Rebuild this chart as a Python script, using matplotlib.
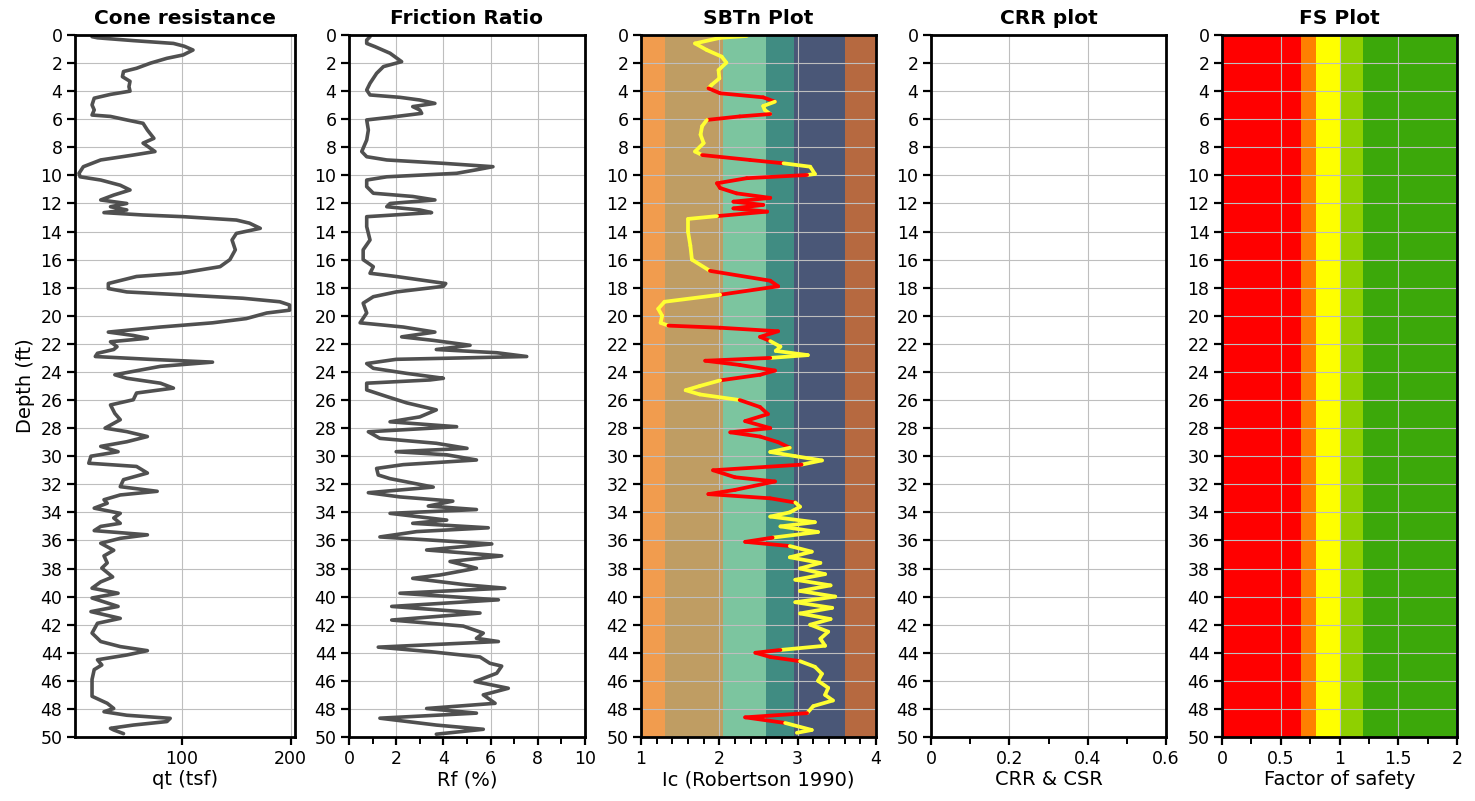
import numpy as np
import matplotlib
matplotlib.use("Agg")
import matplotlib.pyplot as plt
from matplotlib.collections import LineCollection
from matplotlib.ticker import MultipleLocator, FormatStrFormatter, FixedLocator

# ---------------- CPT sounding data ----------------
qt_depth = [0.12, 0.2, 0.4, 0.6, 0.8, 1.07, 1.42, 1.66, 2.0, 2.37, 2.6, 2.97, 3.3, 3.68, 4.0,
            4.23, 4.5, 4.98, 5.34, 5.7, 5.8, 6.05, 6.29, 6.77, 7.36, 7.7, 8.3, 8.55, 8.9, 9.38,
            9.85, 10.1, 10.33, 10.7, 11.04, 11.4, 11.75, 12.0, 12.23, 12.46, 12.65, 12.82, 12.94,
            13.18, 13.4, 13.77, 14.13, 14.6, 15.3, 16.0, 16.5, 16.97, 17.2, 17.7, 18.06, 18.3,
            18.5, 18.75, 19.0, 19.23, 19.6, 19.8, 20.2, 20.5, 20.8, 21.16, 21.4, 21.6, 21.85,
            22.2, 22.4, 22.67, 22.9, 23.1, 23.3, 23.6, 24.2, 24.45, 24.8, 25.15, 25.5, 25.98,
            26.35, 26.95, 27.4, 28.0, 28.25, 28.6, 28.97, 29.3, 29.68, 30.0, 30.5, 30.73, 31.2,
            31.67, 32.17, 32.5, 32.76, 33.1, 33.35, 33.7, 34.07, 34.4, 34.78, 35.0, 35.3, 35.6,
            35.85, 36.2, 36.7, 37.1, 37.6, 37.97, 38.6, 38.95, 39.4, 39.76, 40.1, 40.7, 41.07,
            41.55, 41.9, 42.6, 43.2, 43.56, 43.85, 44.16, 44.5, 44.87, 45.2, 45.9, 46.5, 47.1,
            47.6, 47.97, 48.2, 48.45, 48.67, 48.9, 49.15, 49.38, 49.5, 49.76]
qt_tsf = [17, 22, 55, 92, 102, 110, 101, 86, 71, 58, 46, 45, 52, 51, 52,
          34, 19, 17, 19, 17, 34, 49, 64, 68, 74, 64, 75, 55, 25, 9,
          5, 6, 25, 43, 52, 37, 25, 49, 34, 49, 28, 64, 101,
          150, 162, 172, 150, 146, 149, 144, 135, 98, 58, 32, 32, 49,
          98, 156, 190, 199, 199, 178, 159, 128, 80, 32, 55, 68, 34,
          40, 37, 22, 20, 70, 128, 80, 38, 49, 80, 92, 58, 55,
          34, 38, 43, 29, 49, 68, 49, 25, 41, 16, 14, 58, 68,
          46, 43, 77, 43, 28, 31, 19, 43, 37, 43, 25, 19, 68,
          43, 25, 37, 28, 31, 26, 36, 25, 17, 41, 17, 41, 16,
          43, 22, 17, 25, 43, 68, 49, 22, 26, 19, 17, 17, 17,
          31, 37, 28, 49, 89, 86, 55, 34, 37, 46]

rf_depth = [0.12, 0.36, 0.6, 0.83, 1.3, 1.9, 2.25, 2.73, 3.44, 3.92, 4.27, 4.44, 4.63, 4.87,
            5.1, 5.34, 5.58, 5.86, 6.05, 6.77, 7.48, 8.3, 8.67, 8.9, 9.14, 9.38, 9.6, 9.85,
            10.1, 10.33, 10.8, 11.27, 11.5, 11.75, 12.0, 12.23, 12.46, 12.65, 12.94, 13.65,
            14.6, 15.3, 16.0, 16.5, 16.97, 17.2, 17.7, 17.9, 18.3, 18.64, 19.1, 19.8, 20.5,
            20.8, 21.16, 21.5, 21.75, 22.1, 22.4, 22.63, 22.9, 23.1, 23.4, 23.74, 24.1, 24.45,
            24.57, 24.8, 25.28, 25.75, 26.2, 26.7, 27.2, 27.55, 27.9, 28.26, 28.73, 29.08,
            29.44, 29.68, 29.9, 30.27, 30.6, 30.87, 31.34, 31.6, 32.2, 32.6, 32.9, 33.2, 33.55,
            33.8, 34.07, 34.55, 34.78, 35.1, 35.37, 35.75, 35.97, 36.25, 36.68, 37.1, 37.5,
            37.98, 38.46, 38.7, 39.17, 39.4, 39.76, 40.23, 40.7, 41.17, 41.67, 42.1, 42.6,
            42.97, 43.2, 43.6, 43.92, 44.3, 44.75, 44.95, 45.46, 46.05, 46.53, 47.0, 47.6,
            47.97, 48.3, 48.66, 49.15, 49.45, 49.8]
rf_pct = [0.89, 0.75, 0.75, 1.1, 1.74, 2.23, 1.46, 1.17, 0.89, 0.75, 0.89, 2.16, 3.0, 3.64,
          2.7, 3.0, 3.08, 1.74, 0.75, 0.82, 0.75, 0.54, 0.75, 1.6, 4.0, 6.1, 5.4, 4.56,
          1.6, 0.75, 0.75, 1.03, 2.7, 3.64, 1.74, 1.6, 3.0, 3.5, 0.75, 0.75,
          0.89, 0.6, 0.6, 1.03, 0.89, 2.0, 4.1, 4.0, 2.0, 1.03, 0.6, 0.75, 0.47,
          2.3, 3.64, 2.23, 3.57, 5.13, 3.7, 6.26, 7.53, 2.0, 0.75, 1.03, 2.44, 4.0,
          3.43, 0.75, 0.75, 1.6, 2.44, 3.7, 3.0, 1.74, 4.56, 0.82, 1.31, 3.7,
          5.0, 2.0, 4.14, 5.4, 2.3, 1.17, 1.24, 1.74, 3.57, 0.82, 2.16, 4.4, 3.36,
          5.4, 1.74, 4.14, 2.7, 5.9, 2.87, 1.31, 3.43, 6.05, 3.29, 6.47, 4.28,
          5.4, 3.86, 2.7, 5.0, 6.6, 2.16, 6.33, 1.81, 5.55, 1.81, 4.84, 5.69,
          5.4, 6.33, 1.24, 3.43, 5.55, 5.97, 6.47, 6.26, 5.34, 6.75, 5.69, 6.19,
          3.29, 5.4, 1.31, 3.7, 5.69, 3.7]

ic_depth = [0.07, 0.2, 0.6, 1.07, 1.54, 1.97, 2.5, 3.09, 3.56, 3.8, 4.15, 4.44, 4.75, 5.06,
            5.34, 5.63, 5.8, 6.05, 6.5, 7.1, 7.7, 8.3, 8.55, 8.9, 9.14, 9.38, 9.9, 9.97,
            10.2, 10.56, 10.9, 11.28, 11.6, 11.87, 12.1, 12.35, 12.58, 12.9, 13.1, 14.0,
            15.0, 16.0, 16.8, 17.5, 17.9, 18.5, 19.0, 19.5, 20.0, 20.5, 20.7, 20.85, 21.1,
            21.5, 21.8, 22.2, 22.5, 22.8, 23.0, 23.2, 23.5, 23.9, 24.2, 24.6, 25.0, 25.3,
            25.6, 26.0, 26.5, 27.0, 27.5, 28.0, 28.3, 28.6, 29.0, 29.4, 29.7, 30.0, 30.3,
            30.6, 31.0, 31.5, 31.8, 32.4, 32.7, 33.0, 33.3, 33.6, 34.0, 34.3, 34.7, 35.0,
            35.4, 35.8, 36.1, 36.4, 36.8, 37.2, 37.6, 38.0, 38.4, 38.8, 39.2, 39.6, 40.0,
            40.4, 40.8, 41.2, 41.6, 42.0, 42.5, 43.0, 43.5, 43.8, 44.0, 44.3, 44.6, 45.0,
            45.5, 46.0, 46.5, 47.0, 47.4, 47.8, 48.3, 48.6, 49.0, 49.5, 49.7]
ic_value = [2.35, 2.01, 1.69, 1.84, 2.03, 2.09, 1.99, 2.0, 1.9, 1.86, 2.01, 2.56, 2.71, 2.56,
            2.58, 2.65, 2.26, 1.84, 1.78, 1.76, 1.80, 1.69, 1.78, 2.39, 2.82, 3.16, 3.22, 3.12,
            2.35, 1.97, 2.01, 2.22, 2.65, 2.18, 2.56, 2.18, 2.61, 1.97, 1.60, 1.60,
            1.63, 1.65, 1.88, 2.65, 2.75, 2.01, 1.30, 1.22, 1.27, 1.25, 1.35, 2.01, 2.75,
            2.52, 2.65, 2.78, 2.72, 3.13, 2.65, 1.82, 2.26, 2.71, 2.52, 2.01, 1.75, 1.57,
            1.75, 2.26, 2.52, 2.62, 2.33, 2.65, 2.14, 2.52, 2.75, 2.9, 2.65, 2.97, 3.31,
            3.05, 1.92, 2.2, 2.71, 2.2, 1.86, 2.65, 2.97, 3.03, 2.9, 2.65, 3.22, 2.78,
            3.26, 2.68, 2.33, 2.9, 3.18, 2.9, 3.29, 3.03, 3.35, 2.97, 3.42, 3.03, 3.48,
            2.97, 3.44, 3.03, 3.42, 3.16, 3.39, 3.29, 3.35, 2.78, 2.46, 2.65, 3.03, 3.22,
            3.31, 3.26, 3.39, 3.35, 3.45, 3.2, 3.12, 2.33, 2.84, 3.18, 2.99]

# depth ranges flagged as liquefiable (drawn red on the SBTn trace)
liquefiable_ranges = [(3.8, 4.75), (5.6, 6.0), (8.55, 9.1), (9.97, 12.8), (16.8, 18.6),
                      (20.7, 21.7), (22.95, 24.6), (25.9, 29.3), (30.5, 33.2), (35.7, 36.3),
                      (43.7, 44.45), (48.3, 49.0)]

# Robertson (1990) soil behaviour type zone boundaries on Ic
sbt_bounds = [1.0, 1.31, 2.05, 2.6, 2.95, 3.6, 4.0]
sbt_colors = ["#F19C4E", "#BF9D63", "#7CC59F", "#408C82", "#4A5777", "#B66940"]

# factor of safety classes
fs_bounds = [0.0, 0.67, 0.8, 1.0, 1.2, 2.0]
fs_colors = ["#FF0000", "#FF8000", "#FFFF00", "#8FD000", "#3CA80A"]
fs_depth = [0.0, 50.0]
fs_value = [2.0, 2.0]

titles = ["Cone resistance", "Friction Ratio", "SBTn Plot", "CRR plot", "FS Plot"]
xlabels = ["qt (tsf)", "Rf (%)", "Ic (Robertson 1990)", "CRR & CSR", "Factor of safety"]

# ---------------- figure layout ----------------
W, H = 1475, 801
fig = plt.figure(figsize=(W / 100, H / 100), dpi=100)
top_px, bot_px = 35, 737
panel_px = [(75, 295), (349, 585), (641, 876), (931, 1166), (1222, 1457)]
axes = [fig.add_axes([x0 / W, 1 - bot_px / H, (x1 - x0) / W, (bot_px - top_px) / H])
        for x0, x1 in panel_px]

line_col = "#505050"
grid_col = "#BEBEBE"

for ax, title, xl in zip(axes, titles, xlabels):
    ax.set_ylim(50, 0)
    ax.yaxis.set_major_locator(MultipleLocator(2))
    ax.set_axisbelow("line")
    ax.grid(True, which="major", color=grid_col, linewidth=0.8)
    for s in ax.spines.values():
        s.set_linewidth(2.0)
        s.set_color("black")
    ax.tick_params(which="major", direction="out", length=6, width=1.6, labelsize=12.5,
                   pad=3, colors="black")
    ax.tick_params(which="minor", direction="out", length=5, width=1.4)
    ax.tick_params(axis="y", which="minor", left=False)
    ax.set_title(title, fontsize=14.5, fontweight="bold", pad=8)
    ax.set_xlabel(xl, fontsize=14, labelpad=2)
    ax.xaxis.set_major_formatter(FormatStrFormatter("%g"))

# Cone resistance
ax = axes[0]
ax.plot(qt_tsf, qt_depth, color=line_col, linewidth=2.6, solid_joinstyle="round",
        solid_capstyle="round", zorder=2)
ax.set_xlim(1.3, 204)
ax.xaxis.set_major_locator(FixedLocator([100, 200]))
ax.set_ylabel("Depth (ft)", fontsize=14, labelpad=4)

# Friction ratio
ax = axes[1]
ax.plot(rf_pct, rf_depth, color=line_col, linewidth=2.6, solid_joinstyle="round",
        solid_capstyle="round", zorder=2)
ax.set_xlim(0, 10)
ax.xaxis.set_major_locator(MultipleLocator(2))
ax.xaxis.set_minor_locator(MultipleLocator(1))

# SBTn plot
ax = axes[2]
for lo, hi, c in zip(sbt_bounds[:-1], sbt_bounds[1:], sbt_colors):
    ax.axvspan(lo, hi, color=c, zorder=1, linewidth=0)
pts = np.column_stack([ic_value, ic_depth])
segs = np.stack([pts[:-1], pts[1:]], axis=1)
mid = 0.5 * (np.asarray(ic_depth[:-1]) + np.asarray(ic_depth[1:]))
is_liq = np.zeros(len(mid), dtype=bool)
for lo, hi in liquefiable_ranges:
    is_liq |= (mid >= lo) & (mid <= hi)
seg_colors = np.where(is_liq, "#FF0000", "#FFFF33")
lc = LineCollection(segs, colors=seg_colors, linewidths=2.7, capstyle="round",
                    joinstyle="round", zorder=2)
ax.add_collection(lc)
ax.set_xlim(1, 4)
ax.xaxis.set_major_locator(MultipleLocator(1))
ax.xaxis.set_minor_locator(MultipleLocator(0.2))

# CRR plot
ax = axes[3]
ax.set_xlim(0, 0.6)
ax.xaxis.set_major_locator(MultipleLocator(0.2))
ax.xaxis.set_minor_locator(MultipleLocator(0.1))

# FS plot
ax = axes[4]
for lo, hi, c in zip(fs_bounds[:-1], fs_bounds[1:], fs_colors):
    ax.axvspan(lo, hi, color=c, zorder=1, linewidth=0)
ax.plot(fs_value, fs_depth, color="#3344FF", linewidth=2.0, zorder=2)
ax.set_xlim(0, 2)
ax.xaxis.set_major_locator(MultipleLocator(0.5))
ax.xaxis.set_minor_locator(MultipleLocator(0.25))

fig.savefig("out.png", dpi=100)
